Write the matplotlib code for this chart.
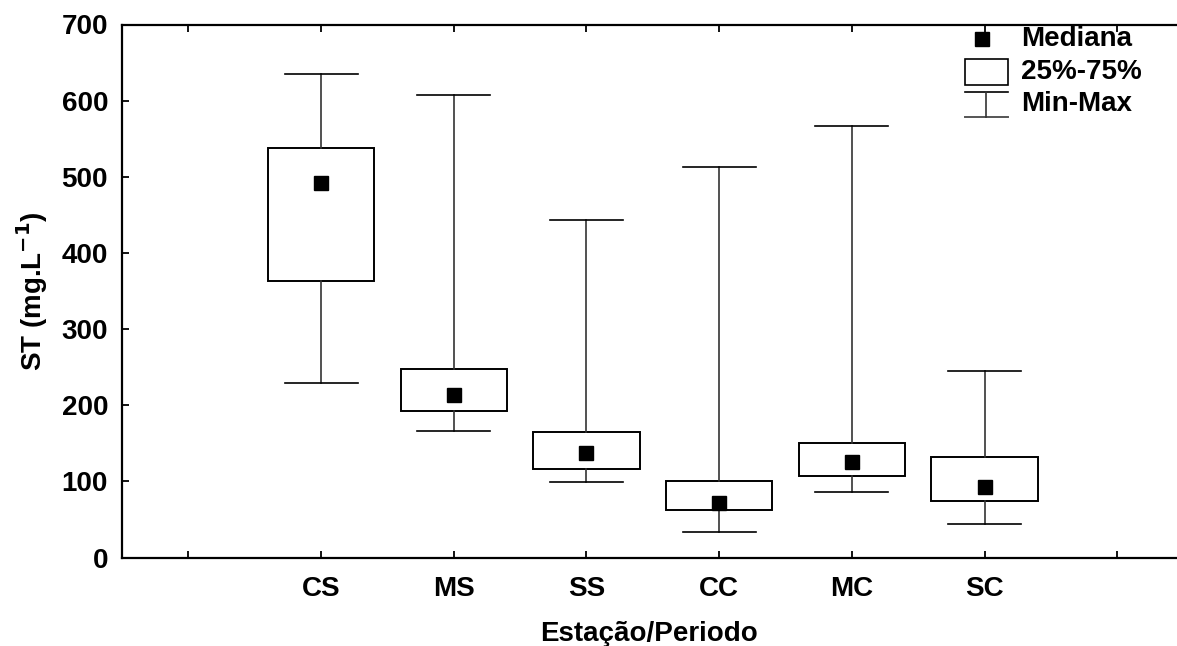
#!/usr/bin/env python3
# -*- coding: utf-8 -*-
"""
Box plot of ST per station/period (Statistica style)
"""

import matplotlib
matplotlib.use('Agg')
import matplotlib.pyplot as plt
from matplotlib.patches import Rectangle
from matplotlib.lines import Line2D

# data (mg/L)
categories = ['CS', 'MS', 'SS', 'CC', 'MC', 'SC']
minimum = [229, 166, 99, 33, 86, 44]
q25 = [363, 192, 116, 63, 107, 74]
median = [492, 213, 137, 71, 126, 92]
q75 = [538, 247, 165, 100, 150, 132]
maximum = [635, 607, 443, 513, 567, 245]

y_ticks = [0, 100, 200, 300, 400, 500, 600, 700]
legend_labels = ['Mediana', '25%-75%', 'Min-Max']

W, H = 1177, 646
fs = 20
plt.rcParams['font.family'] = ['Liberation Sans', 'DejaVu Sans']
plt.rcParams['font.weight'] = 'bold'

fig = plt.figure(figsize=(W / 100, H / 100), dpi=100)
ax = fig.add_axes([122 / W, 1 - 557.5 / H, 1 - 122 / W, (557.5 - 24.5) / H])

positions = list(range(1, len(categories) + 1))
stats = []
for i in range(len(categories)):
    stats.append({'med': median[i], 'q1': q25[i], 'q3': q75[i],
                  'whislo': minimum[i], 'whishi': maximum[i], 'fliers': []})

ax.bxp(stats, positions=positions, widths=0.8, capwidths=0.55, showfliers=False,
       patch_artist=True,
       boxprops=dict(facecolor='white', edgecolor='black', linewidth=1.4),
       whiskerprops=dict(color='#333333', linewidth=1.2),
       capprops=dict(color='black', linewidth=1.2),
       medianprops=dict(visible=False))
ax.plot(positions, median, 's', color='black', ms=9.5, zorder=5)

ax.set_xlim(-0.5, 7.45)
ax.set_ylim(0, 700)
ax.set_xticks(range(0, 8))
ax.set_xticklabels([''] + categories + [''])
ax.set_yticks(y_ticks)
ax.tick_params(direction='in', length=5, width=1.3, labelsize=fs, top=True, pad=13)
ax.tick_params(axis='y', pad=10)
for lab in ax.get_xticklabels() + ax.get_yticklabels():
    lab.set_fontweight('bold')
ax.spines['right'].set_visible(False)
for s in ['left', 'bottom', 'top']:
    ax.spines[s].set_linewidth(1.6)

ax.set_xlabel('Estação/Periodo', fontsize=fs, fontweight='bold', labelpad=14)
ax.set_ylabel('ST (mg.L$^{\\mathbf{-1}}$)', fontsize=fs, fontweight='bold', labelpad=8)


# legend, drawn in pixel positions of the figure
def fx(px):
    return px / W


def fy(py):
    return 1 - py / H


fig.add_artist(Line2D([fx(982)], [fy(39)], marker='s', color='black', ms=9.5,
                      transform=fig.transFigure))
fig.add_artist(Rectangle((fx(965), fy(85)), fx(1008) - fx(965), fy(59) - fy(85),
                         facecolor='white', edgecolor='black', linewidth=1.2,
                         transform=fig.transFigure))
fig.add_artist(Line2D([fx(965), fx(1008)], [fy(92), fy(92)], color='black', lw=1.2,
                      transform=fig.transFigure))
fig.add_artist(Line2D([fx(965), fx(1008)], [fy(117), fy(117)], color='#555555', lw=1.4,
                      transform=fig.transFigure))
fig.add_artist(Line2D([fx(986), fx(986)], [fy(92), fy(117)], color='#333333', lw=1.2,
                      transform=fig.transFigure))
for label, py in zip(legend_labels, [39, 72, 104]):
    fig.text(fx(1021), fy(py), label, fontsize=fs, fontweight='bold',
             va='center', ha='left')

fig.savefig('out.png', dpi=100)
